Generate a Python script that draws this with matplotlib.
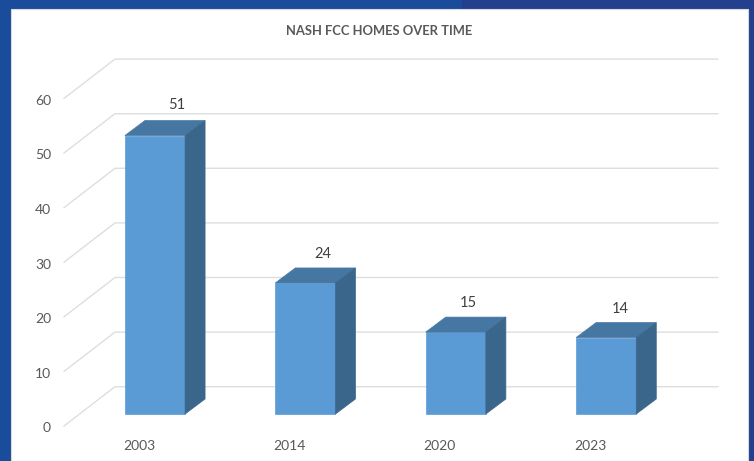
import matplotlib.pyplot as plt
from matplotlib.patches import Polygon, Rectangle

plt.rcParams['font.family'] = ['Lato', 'DejaVu Sans']

years = ['2003', '2014', '2020', '2023']
homes = [51, 24, 15, 14]
y_ticks = [0, 10, 20, 30, 40, 50, 60]

W, H = 754, 461
# pixel layout of the fake 3d chart, x in category units and y in value units
px_x = 150.4
px_y = 5.46
x0_px = 155
y0_px = 414
bar_w = 0.4
depth_x = 20 / px_x
depth_y = 15 / px_y
label_dx = [22, 17.5, 13, 14]
label_dy = [30.8, 29.3, 29.3, 28.9]

fig = plt.figure(figsize=(W / 100, H / 100), dpi=100)
ax = fig.add_axes([0, 0, 1, 1])
ax.set_xlim(-x0_px / px_x, (W - x0_px) / px_x)
ax.set_ylim((y0_px - H) / px_y, y0_px / px_y)
ax.axis('off')

# blue frame and white panel
fig.patches.append(Rectangle((0, 0), 1, 1, transform=fig.transFigure, color='#1a4c9c', zorder=-3))
fig.patches.append(Rectangle((462 / W, 1 - 9 / H), 1, 9 / H, transform=fig.transFigure, color='#253f8f', zorder=-2))
fig.patches.append(Rectangle((748 / W, 0), 6 / W, 1, transform=fig.transFigure, color='#253f8f', zorder=-2))
fig.patches.append(Rectangle((11 / W, 0), 737 / W, 1 - 9 / H, transform=fig.transFigure,
                             facecolor='white', edgecolor='#d9d9d9', linewidth=0.8, zorder=-1))

# gridlines: diagonal on the floor side, then along the back wall
left_front = (64 - x0_px) / px_x
left_back = (115 - x0_px) / px_x
right_back = (718 - x0_px) / px_x
front_drop = -12 / px_y
back_rise = 27.3 / px_y
for t in y_ticks:
    ax.plot([left_front, left_back, right_back],
            [t + front_drop, t + back_rise, t + back_rise],
            color='#dedede', lw=1.0, solid_joinstyle='miter', zorder=1)
    ax.text(left_front - 0.086, t + front_drop - 0.45, str(t), ha='right', va='center',
            fontsize=10, color='#595959')

# bars
for i, (year, v) in enumerate(zip(years, homes)):
    l, r = i - bar_w / 2, i + bar_w / 2
    ax.add_patch(Rectangle((l, 0), bar_w, v, facecolor='#5b9bd5', edgecolor='#5b9bd5', lw=0.5, zorder=3))
    ax.add_patch(Polygon([(l, v), (r, v), (r + depth_x, v + depth_y), (l + depth_x, v + depth_y)],
                         facecolor='#4677a3', edgecolor='#4677a3', lw=0.5, zorder=3))
    ax.add_patch(Polygon([(r, 0), (r + depth_x, depth_y), (r + depth_x, v + depth_y), (r, v)],
                         facecolor='#3b668c', edgecolor='#3b668c', lw=0.5, zorder=3))
    ax.text(i + label_dx[i] / px_x, v + label_dy[i] / px_y, str(v), ha='center', va='center',
            fontsize=10.5, color='#404040')
    ax.text(i - 0.106, -5.85, year, ha='center', va='center', fontsize=10, color='#595959')

ax.text((379.5 - x0_px) / px_x, (y0_px - 30.5) / px_y, 'NASH FCC HOMES OVER TIME', ha='center', va='center',
        fontsize=9.4, fontweight='bold', color='#595959')

fig.savefig('out.png', dpi=100)
